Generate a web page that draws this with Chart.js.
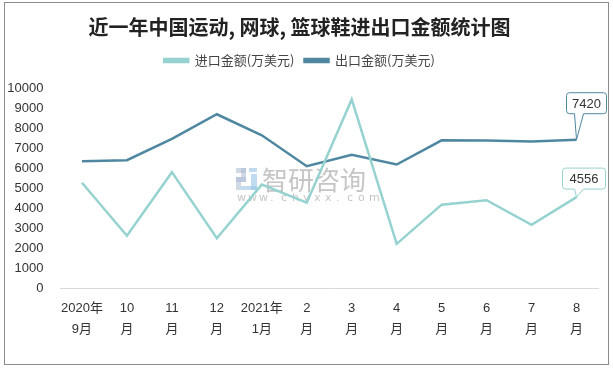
<!DOCTYPE html>
<html>
<head>
<meta charset="utf-8">
<script src="https://cdn.jsdelivr.net/npm/chart.js@4.4.0/dist/chart.umd.min.js"></script>
<style>
  body { margin: 0; background: #fff; }
  #wrap { width: 613px; height: 368px; position: relative; }
</style>
</head>
<body>
<div id="wrap"><canvas id="tradeChart"></canvas></div>
<script>
const months = [
  ["2020年", "9月"], ["10", "月"], ["11", "月"], ["12", "月"],
  ["2021年", "1月"], ["2", "月"], ["3", "月"], ["4", "月"],
  ["5", "月"], ["6", "月"], ["7", "月"], ["8", "月"]
];
const importValues = [5270, 2630, 5800, 2500, 5180, 4280, 9430, 2220, 4180, 4400, 3170, 4556];
const exportValues = [6340, 6400, 7460, 8690, 7640, 6100, 6670, 6180, 7390, 7380, 7330, 7420];
const seriesNames = ["进口金额(万美元)", "出口金额(万美元)"];
const lightColor = "#96d3d0";
const darkColor = "#4f87a0";

// frame, watermark and the two end-point callouts
const extras = {
  id: "extras",
  beforeInit(chart) {
    // a bit more room under the legend
    const fit = chart.legend.fit;
    chart.legend.fit = function () {
      fit.call(this);
      this.height += 11;
    };
  },
  beforeDatasetsDraw(chart) {
    const ctx = chart.ctx;
    ctx.save();
    // watermark
    ctx.fillStyle = "rgba(170,185,210,0.55)";
    ctx.fillRect(236, 168, 10, 5);
    ctx.fillRect(241, 168, 5, 14);
    ctx.fillRect(236, 177, 10, 5);
    ctx.fillRect(236, 177, 5, 13);
    ctx.fillStyle = "rgba(150,195,230,0.6)";
    ctx.fillRect(249, 168, 8, 4);
    ctx.fillRect(251, 174, 6, 16);
    ctx.fillRect(241, 186, 16, 4);
    ctx.fillStyle = "rgba(150,150,150,0.55)";
    ctx.font = "26px 'Noto Sans CJK SC'";
    ctx.textBaseline = "middle";
    ctx.textAlign = "left";
    ctx.fillText("智研咨询", 262, 180);
    ctx.font = "11px 'DejaVu Sans'";
    const site = "www.chyxx.com";
    for (let i = 0; i < site.length; i++) {
      ctx.fillText(site[i], 237 + i * 11, 198);
    }
    ctx.restore();
  },
  afterDatasetsDraw(chart) {
    const ctx = chart.ctx;
    ctx.save();
    const cfg = [
      { ds: 1, color: darkColor, dy: -47, dx: -10, w: 40 },
      { ds: 0, color: lightColor, dy: -29, dx: -14, w: 43 }
    ];
    cfg.forEach(c => {
      const meta = chart.getDatasetMeta(c.ds);
      const pt = meta.data[meta.data.length - 1];
      const val = chart.data.datasets[c.ds].data[meta.data.length - 1];
      const w = c.w, h = 21;
      const x0 = pt.x + c.dx, y0 = pt.y + c.dy;
      const r = 3;
      ctx.beginPath();
      ctx.moveTo(x0 + r, y0);
      ctx.lineTo(x0 + w - r, y0);
      ctx.arcTo(x0 + w, y0, x0 + w, y0 + r, r);
      ctx.lineTo(x0 + w, y0 + h - r);
      ctx.arcTo(x0 + w, y0 + h, x0 + w - r, y0 + h, r);
      ctx.lineTo(pt.x + 7, y0 + h);
      ctx.lineTo(pt.x, pt.y);
      ctx.lineTo(pt.x - 2, y0 + h);
      ctx.lineTo(x0 + r, y0 + h);
      ctx.arcTo(x0, y0 + h, x0, y0 + h - r, r);
      ctx.lineTo(x0, y0 + r);
      ctx.arcTo(x0, y0, x0 + r, y0, r);
      ctx.closePath();
      ctx.fillStyle = "#fff";
      ctx.fill();
      ctx.strokeStyle = c.color;
      ctx.lineWidth = 1;
      ctx.stroke();
      ctx.fillStyle = "#333";
      ctx.font = "13px 'Liberation Sans'";
      ctx.textAlign = "center";
      ctx.textBaseline = "middle";
      ctx.fillText(String(val), x0 + w / 2, y0 + h / 2 + 1);
    });
    ctx.restore();
  },
  afterDraw(chart) {
    const ctx = chart.ctx;
    ctx.save();
    ctx.strokeStyle = "#8c8c8c";
    ctx.lineWidth = 1;
    ctx.strokeRect(4.5, 2.5, 604, 362);
    ctx.restore();
  }
};

new Chart(document.getElementById("tradeChart"), {
  type: "line",
  data: {
    labels: months,
    datasets: [
      {
        label: seriesNames[0],
        data: importValues,
        borderColor: lightColor,
        backgroundColor: lightColor,
        borderWidth: 2.5,
        pointRadius: 0,
        tension: 0
      },
      {
        label: seriesNames[1],
        data: exportValues,
        borderColor: darkColor,
        backgroundColor: darkColor,
        borderWidth: 2.5,
        pointRadius: 0,
        tension: 0
      }
    ]
  },
  options: {
    responsive: true,
    maintainAspectRatio: false,
    animation: false,
    layout: { padding: { left: 0, right: 14, top: 0, bottom: 26 } },
    plugins: {
      title: {
        display: true,
        text: "近一年中国运动, 网球, 篮球鞋进出口金额统计图",
        color: "#222",
        font: { family: "'Noto Sans CJK SC'", size: 20, weight: "bold" },
        padding: { top: 15, bottom: 5 }
      },
      legend: {
        labels: {
          color: "#444",
          font: { family: "'Noto Sans CJK SC'", size: 13 },
          boxWidth: 24,
          boxHeight: 3,
          padding: 10
        }
      },
      tooltip: { enabled: false }
    },
    scales: {
      x: {
        offset: true,
        grid: { display: false },
        border: { display: false },
        ticks: {
          color: "#333",
          font: { family: "'Liberation Sans', 'Noto Sans CJK SC'", size: 13, lineHeight: 1.6 },
          maxRotation: 0,
          autoSkip: false,
          padding: 2
        }
      },
      y: {
        min: 0,
        max: 10000,
        afterFit(scale) { scale.width = 59.5; },
        border: { display: false },
        grid: {
          drawTicks: false,
          color: ctx => ctx.tick && ctx.tick.value === 0 ? "#d9d9d9" : "rgba(0,0,0,0)"
        },
        ticks: {
          stepSize: 1000,
          color: "#333",
          font: { family: "'Liberation Sans'", size: 13 },
          padding: 16,
          callback: v => String(v)
        }
      }
    }
  },
  plugins: [extras]
});
</script>
</body>
</html>
